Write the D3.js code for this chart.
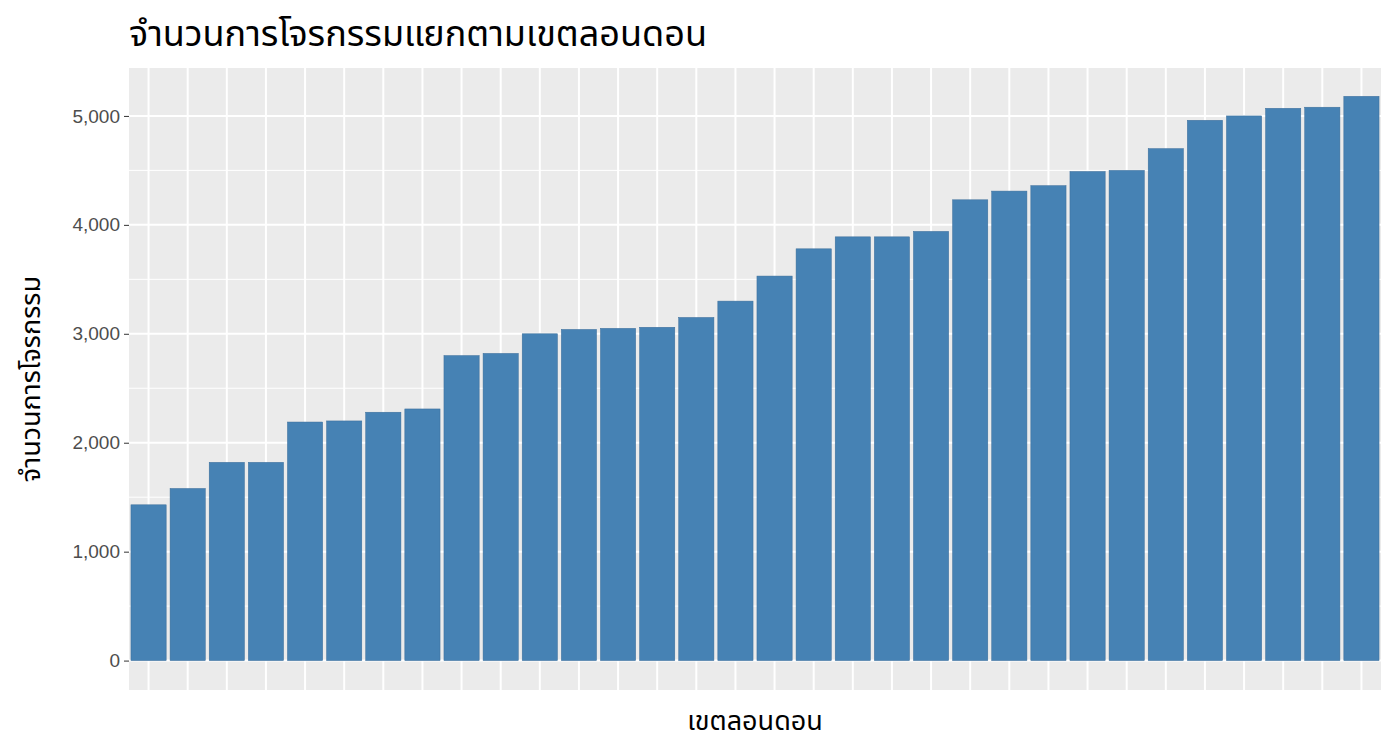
<!DOCTYPE html>
<html><head><meta charset="utf-8">
<script src="https://cdn.jsdelivr.net/npm/d3@7"></script>
<style>body{margin:0;background:#fff;font-family:"Noto Sans Thai","Noto Sans","DejaVu Sans",sans-serif}</style>
</head><body><svg width="1397" height="752"></svg>
<script>
const title = "จำนวนการโจรกรรมแยกตามเขตลอนดอน";
const xTitle = "เขตลอนดอน";
const yTitle = "จำนวนการโจรกรรม";
const boroughs = d3.range(1, 33).map(i => "B" + i);
const counts = [1430, 1580, 1820, 1820, 2190, 2200, 2280, 2310, 2800, 2820, 3000, 3040, 3050, 3060, 3150, 3300,
  3530, 3780, 3890, 3890, 3940, 4230, 4310, 4360, 4490, 4500, 4700, 4960, 5000, 5070, 5080, 5180];
const yTicks = [0, 1000, 2000, 3000, 4000, 5000];

const svg = d3.select("svg");
const m = {l: 129, r: 1381, t: 68, b: 690};
const x = d3.scaleBand().domain(boroughs).range([m.l, m.r]).paddingInner(0.1).paddingOuter(0.05);
const y = d3.scaleLinear().domain([-270, 5440]).range([m.b, m.t]);

svg.append("rect").attr("x", m.l).attr("y", m.t).attr("width", m.r - m.l).attr("height", m.b - m.t).attr("fill", "#ebebeb");
const g = svg.append("g");
d3.range(500, 5500, 1000).forEach(v => g.append("line").attr("x1", m.l).attr("x2", m.r)
  .attr("y1", y(v)).attr("y2", y(v)).attr("stroke", "#fff").attr("stroke-width", 1));
yTicks.forEach(v => g.append("line").attr("x1", m.l).attr("x2", m.r)
  .attr("y1", y(v)).attr("y2", y(v)).attr("stroke", "#fff").attr("stroke-width", 2));
boroughs.forEach(b => g.append("line").attr("y1", m.t).attr("y2", m.b)
  .attr("x1", x(b) + x.bandwidth() / 2).attr("x2", x(b) + x.bandwidth() / 2).attr("stroke", "#fff").attr("stroke-width", 2));

svg.selectAll(".bar").data(counts).enter().append("rect")
  .attr("x", (d, i) => x(boroughs[i])).attr("width", x.bandwidth())
  .attr("y", d => y(d)).attr("height", d => y(0) - y(d))
  .attr("fill", "#4682b4").attr("stroke", "#3a6d99").attr("stroke-width", 0.5);

const ax = svg.append("g").attr("transform", `translate(${m.l},0)`)
  .call(d3.axisLeft(y).tickValues(yTicks).tickSize(5).tickPadding(4));
ax.select(".domain").remove();
ax.selectAll("line").attr("stroke", "#333");
ax.selectAll("text").attr("font-size", 19).attr("fill", "#4d4d4d").attr("font-family", "Liberation Sans, Arial, sans-serif");

svg.append("text").attr("x", 129).attr("y", 46).attr("font-size", 36).attr("fill", "#000").text(title);
svg.append("text").attr("x", (m.l + m.r) / 2).attr("y", 730).attr("text-anchor", "middle").attr("font-size", 27).text(xTitle);
svg.append("text").attr("transform", `translate(40,${(m.t + m.b) / 2}) rotate(-90)`).attr("text-anchor", "middle").attr("font-size", 27).text(yTitle);
</script></body></html>
